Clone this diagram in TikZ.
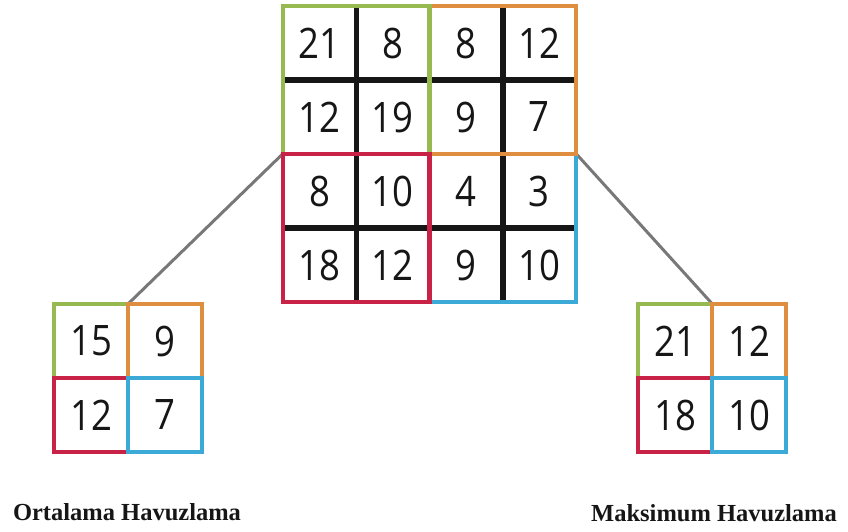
\documentclass[tikz,border=0pt]{standalone}
\usepackage{fontspec}
\setmainfont{Liberation Serif}
\newfontfamily\numfont[FakeStretch=0.87]{Open Sans}
\definecolor{poolgreen}{RGB}{150,185,80}
\definecolor{poolorange}{RGB}{222,142,62}
\definecolor{poolred}{RGB}{200,35,70}
\definecolor{poolblue}{RGB}{60,170,215}
\definecolor{linkgrey}{RGB}{120,120,120}
\definecolor{inkblack}{RGB}{22,22,22}
\begin{document}
\begin{tikzpicture}[x=1pt,y=-1pt,
  bigcell/.style={minimum width=73.25pt,minimum height=74pt,inner sep=0pt,
    text=inkblack,font=\numfont\fontsize{42}{42}\selectfont},
  smallcell/.style={minimum width=74pt,minimum height=74pt,inner sep=0pt,
    text=inkblack,font=\numfont\fontsize{42}{42}\selectfont},
  gridline/.style={draw=inkblack,line width=5.5pt},
  frame/.style={line width=4.5pt,line join=miter},
  link/.style={draw=linkgrey,line width=3pt},
  caption/.style={font=\bfseries\fontsize{24.5}{26}\selectfont,text=inkblack}]
\useasboundingbox (0,0) rectangle (848,532);

% input feature map, 4x4
\foreach \v [count=\i from 0] in {21,8,8,12,12,19,9,7,8,10,4,3,18,12,9,10} {
  \pgfmathtruncatemacro\r{\i/4}
  \pgfmathtruncatemacro\c{mod(\i,4)}
  \node[bigcell] (b\r\c) at ({283+73.25*(\c+0.5)},{6+74*(\r+0.5)}) {\v};
}

% average pooling result
\foreach \v [count=\i from 0] in {15,9,12,7} {
  \pgfmathtruncatemacro\r{\i/2}
  \pgfmathtruncatemacro\c{mod(\i,2)}
  \node[smallcell] (l\r\c) at ({54+74*(\c+0.5)},{304+74*(\r+0.5)}) {\v};
}

% max pooling result
\foreach \v [count=\i from 0] in {21,12,18,10} {
  \pgfmathtruncatemacro\r{\i/2}
  \pgfmathtruncatemacro\c{mod(\i,2)}
  \node[smallcell] (m\r\c) at ({638+74*(\c+0.5)},{304+74*(\r+0.5)}) {\v};
}

% connectors from the input map to both results
\draw[link] (b20.north west) -- (l00.north east);
\draw[link] (b23.north east) -- (m00.north east);

% inner black grid lines of the input map
\draw[gridline] (b00.south west) -- (b03.south east);
\draw[gridline] (b20.south west) -- (b23.south east);
\draw[gridline] (b00.north east) -- (b30.south east);
\draw[gridline] (b02.north east) -- (b32.south east);

% pooling windows
\draw[frame,poolblue]   (b22.north west) rectangle (b33.south east);
\draw[frame,poolorange] (b02.north west) rectangle (b13.south east);
\draw[frame,poolgreen]  (b00.north west) rectangle (b11.south east);
\draw[frame,poolred]    (b20.north west) rectangle (b31.south east);

\draw[frame,poolgreen]  (l00.north west) rectangle (l00.south east);
\draw[frame,poolorange] (l01.north west) rectangle (l01.south east);
\draw[frame,poolred]    (l10.north west) rectangle (l10.south east);
\draw[frame,poolblue]   (l11.north west) rectangle (l11.south east);

\draw[frame,poolgreen]  (m00.north west) rectangle (m00.south east);
\draw[frame,poolorange] (m01.north west) rectangle (m01.south east);
\draw[frame,poolred]    (m10.north west) rectangle (m10.south east);
\draw[frame,poolblue]   (m11.north west) rectangle (m11.south east);

% captions
\node[caption] (avgcap) at (127,512) {Ortalama Havuzlama};
\node[caption] (maxcap) at (714,513) {Maksimum Havuzlama};
\end{tikzpicture}
\end{document}
